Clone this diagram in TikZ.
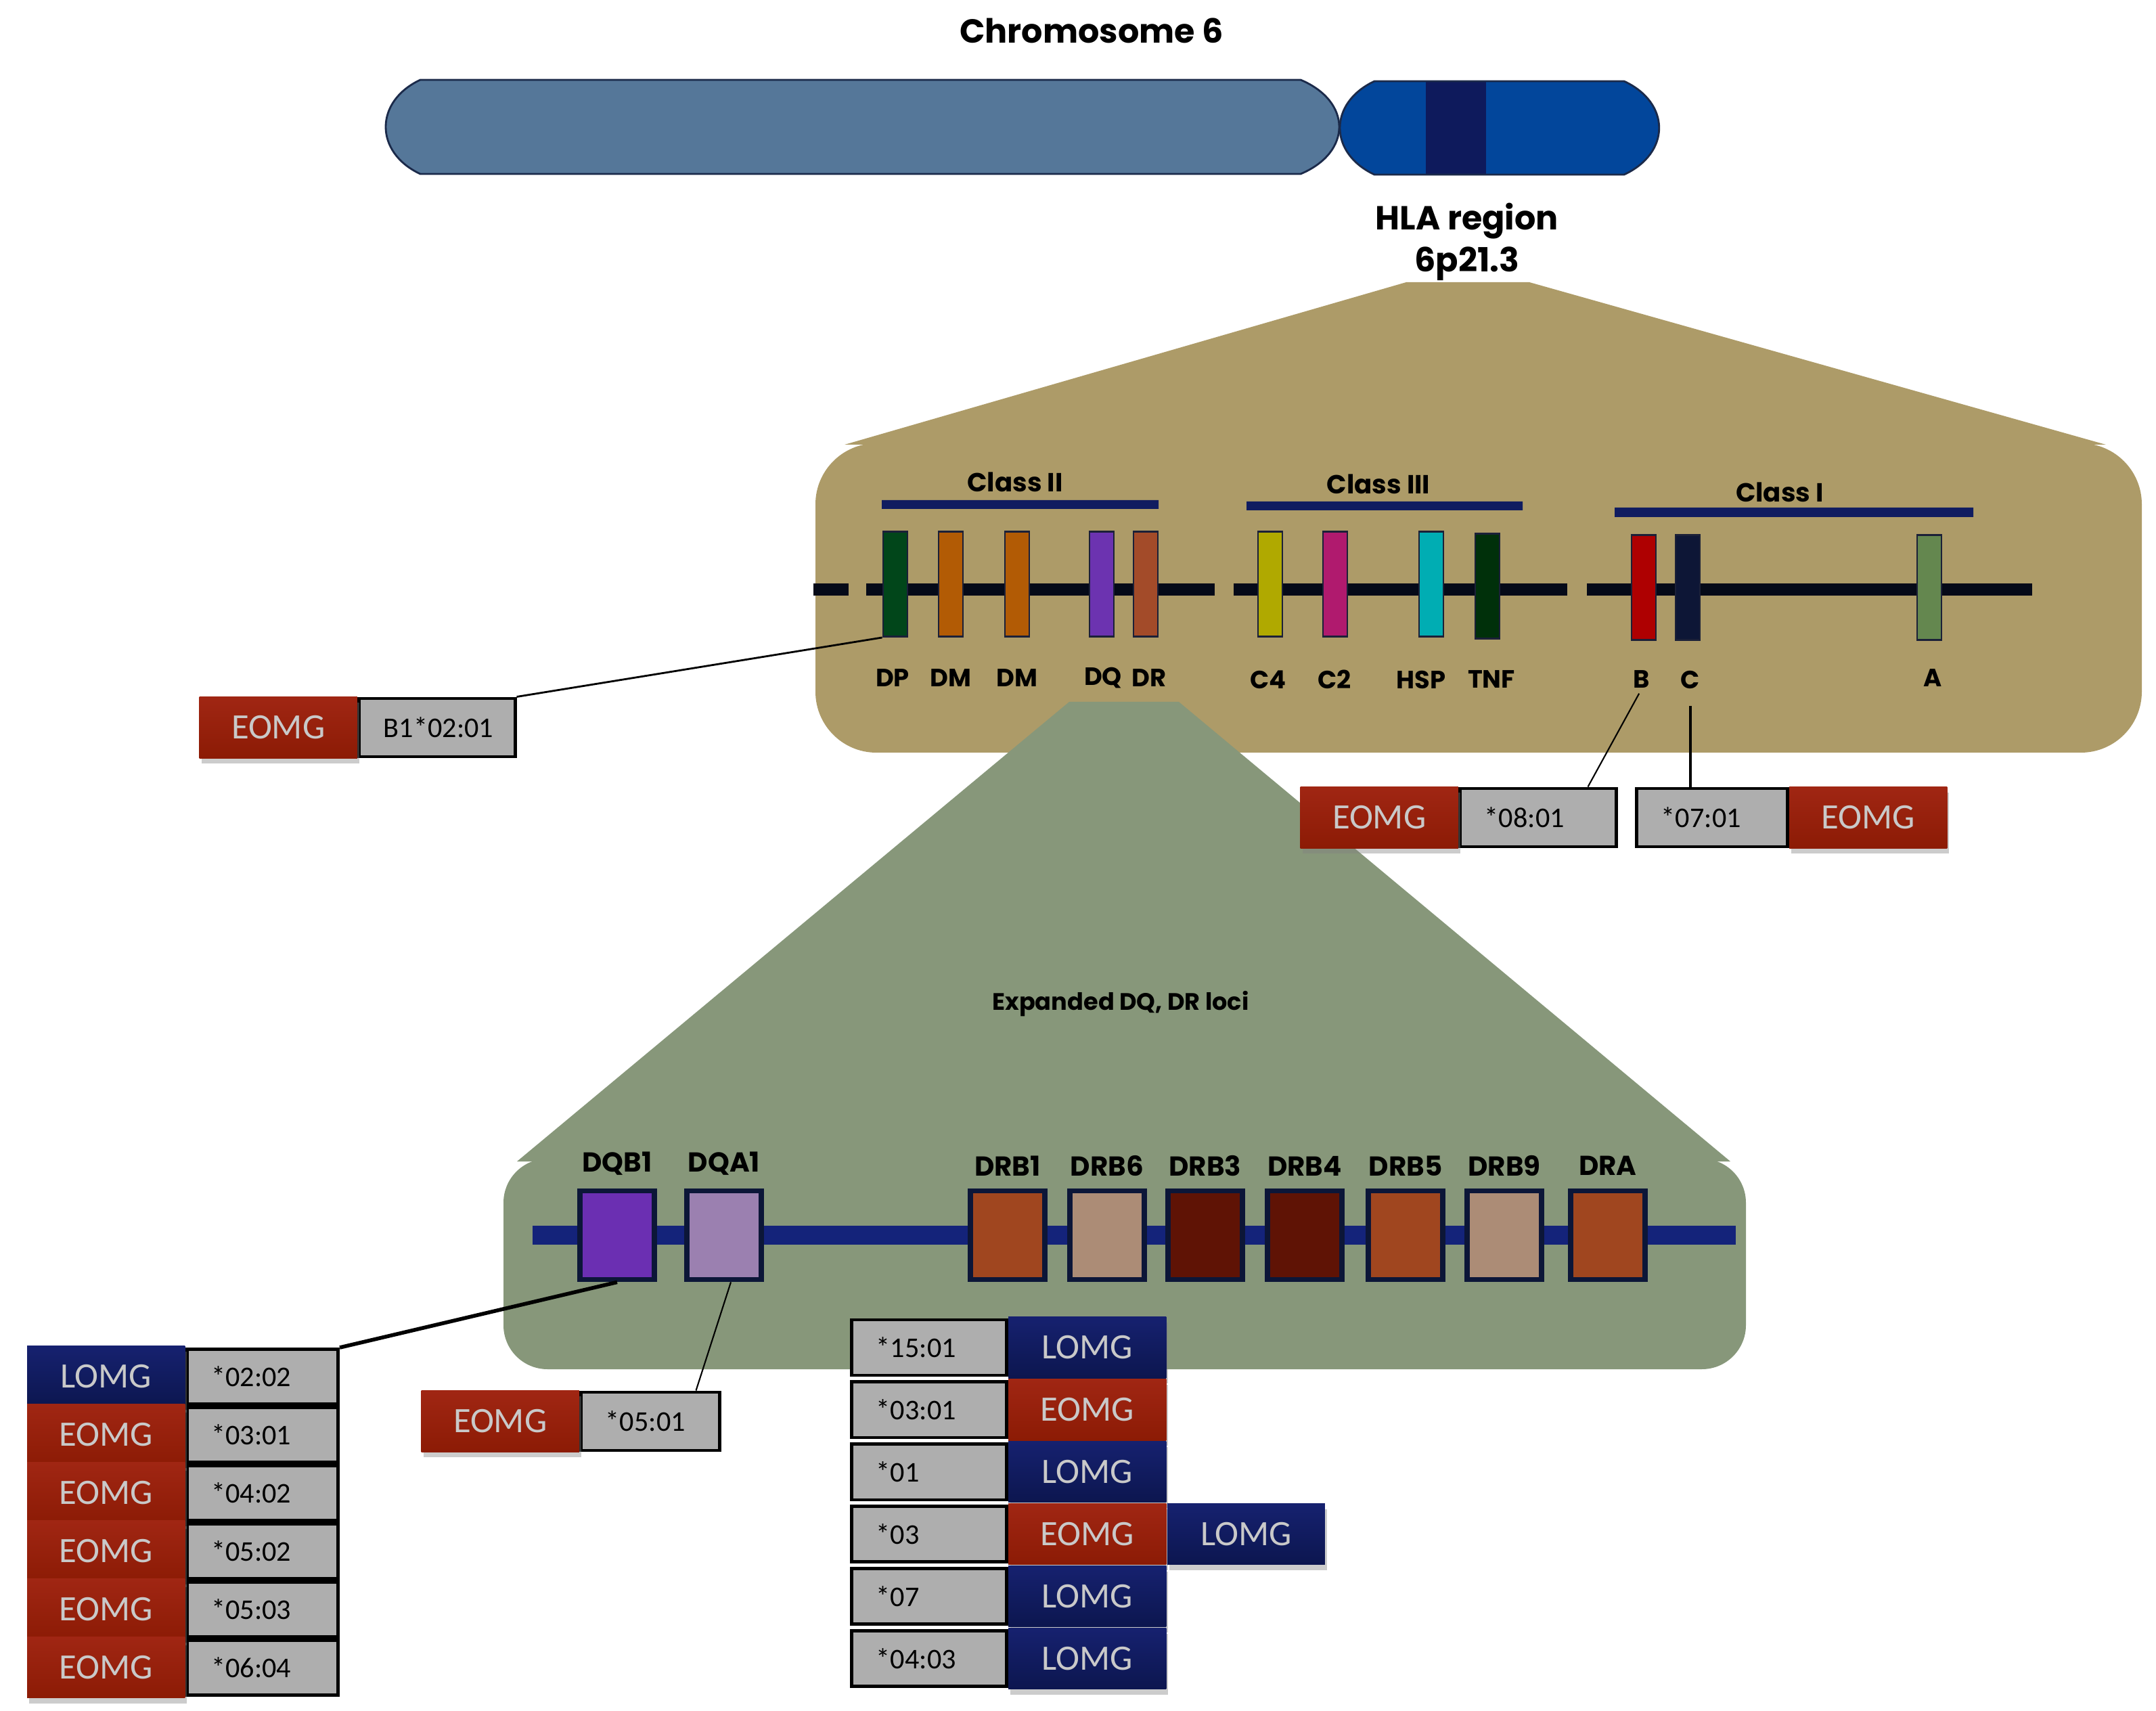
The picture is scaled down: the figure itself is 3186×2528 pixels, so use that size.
\documentclass[tikz,border=0pt]{standalone}
\usepackage{fontspec}
\setmainfont{Poppins}
\newfontfamily\calibri{Carlito}
\usetikzlibrary{positioning,shadows}
\definecolor{ChromGrey}{HTML}{557799}
\definecolor{ChromBlue}{HTML}{02469B}
\definecolor{ChromBand}{HTML}{0E1A5C}
\definecolor{ChromEdge}{HTML}{1B2A4A}
\definecolor{HlaOlive}{HTML}{AD9B68}
\definecolor{LociGreen}{HTML}{87977A}
\definecolor{GeneLine}{HTML}{050A18}
\definecolor{ClassNavy}{HTML}{101C60}
\definecolor{LociLine}{HTML}{14237A}
\definecolor{BarEdge}{HTML}{1B2038}
\definecolor{LocusEdge}{HTML}{0C1638}
\definecolor{BarDP}{HTML}{01461A}
\definecolor{BarDM}{HTML}{B25B05}
\definecolor{BarDQ}{HTML}{6C33B0}
\definecolor{BarDR}{HTML}{A34B29}
\definecolor{BarCfour}{HTML}{B0A900}
\definecolor{BarCtwo}{HTML}{B01A6E}
\definecolor{BarHSP}{HTML}{00ADB3}
\definecolor{BarTNF}{HTML}{00300A}
\definecolor{BarB}{HTML}{AE0001}
\definecolor{BarC}{HTML}{0D1636}
\definecolor{BarA}{HTML}{64874F}
\definecolor{LocPurple}{HTML}{6B2FB2}
\definecolor{LocLilac}{HTML}{9B80B0}
\definecolor{LocRust}{HTML}{A0461F}
\definecolor{LocTan}{HTML}{AC8C76}
\definecolor{LocMaroon}{HTML}{5F1305}
\definecolor{AlleleGrey}{HTML}{AEAEAE}
\definecolor{TagText}{HTML}{C9C9C9}
\definecolor{EomgTop}{HTML}{A02613}
\definecolor{EomgBot}{HTML}{8C1B05}
\definecolor{LomgTop}{HTML}{16216F}
\definecolor{LomgBot}{HTML}{0C164F}
\tikzset{
	gene/.style={draw=BarEdge,line width=0.8pt,minimum width=0.36cm,minimum height=1.55cm,inner sep=0},
	locus/.style={draw=LocusEdge,line width=2.2pt,minimum width=1.1cm,minimum height=1.31cm,inner sep=0},
	lbl/.style={font=\bfseries\fontsize{10.5}{12}\selectfont,inner sep=0},
	loclbl/.style={font=\bfseries\fontsize{11.5}{13}\selectfont,inner sep=0},
	allele/.style={draw=black,line width=1.4pt,fill=AlleleGrey,minimum height=0.86cm,inner xsep=0.36cm,inner ysep=0,align=left,font=\calibri\fontsize{12}{14}\selectfont},
	tagbox/.style={minimum width=2.33cm,minimum height=0.9cm,inner sep=0,text=TagText,font=\calibri\fontsize{15}{18}\selectfont,drop shadow={shadow xshift=0.03cm,shadow yshift=-0.08cm,opacity=0.4}},
	eomg/.style={tagbox,top color=EomgTop,bottom color=EomgBot},
	lomg/.style={tagbox,top color=LomgTop,bottom color=LomgBot}
}

\begin{document}
\begin{tikzpicture}[x=0.01cm,y=-0.01cm,node distance=0pt]
	\useasboundingbox (0,0) rectangle (3186,2528);
	% chromosome 6
	\node[font=\bfseries\fontsize{14}{17}\selectfont] (chr) at (1613,45) {Chromosome 6};
	\filldraw[fill=ChromGrey,draw=ChromEdge,line width=0.8pt] (621,118) -- (1922,118) .. controls (1998,150) and (1998,225) .. (1922,257) -- (621,257) .. controls (553,225) and (553,150) .. (621,118) -- cycle;
	\filldraw[fill=ChromBlue,draw=ChromEdge,line width=0.8pt,path picture={\fill[ChromBand] (2107,100) rectangle (2196,280);}] (2031,120) -- (2400,120) .. controls (2469,152) and (2469,226) .. (2400,258) -- (2031,258) .. controls (1963,226) and (1963,152) .. (2031,120) -- cycle;
	\node[align=center,font=\bfseries\fontsize{14}{17.6}\selectfont] (hla) at (2168,357) {HLA region\\6p21.3};
	% HLA region
	\fill[HlaOlive] (2078,417) -- (2260,417) -- (3112,657) -- (1248,657) -- cycle;
	\fill[HlaOlive,rounded corners=0.9cm] (1205,655) rectangle (3165,1112);
	\fill[ClassNavy] (1303,739) rectangle (1712,752) (1842,741) rectangle (2250,754) (2386,750) rectangle (2916,764);
	\node[lbl,font=\bfseries\fontsize{11}{13}\selectfont] (cII) at (1500,712) {Class II};
	\node[lbl,font=\bfseries\fontsize{11}{13}\selectfont] (cIII) at (2037,715) {Class III};
	\node[lbl,font=\bfseries\fontsize{11}{13}\selectfont] (cI) at (2630,727) {Class I};
	\draw[GeneLine,line width=0.18cm] (1202,871) -- (1254,871) (1280,871) -- (1795,871) (1823,871) -- (2316,871) (2345,871) -- (3003,871);
	\node[gene,fill=BarDP] (dp) at (1323,863) {};
	\node[gene,fill=BarDM] (dma) at (1405,863) {};
	\node[gene,fill=BarDM] (dmb) at (1503,863) {};
	\node[gene,fill=BarDQ] (dq) at (1628,863) {};
	\node[gene,fill=BarDR] (dr) at (1693,863) {};
	\node[gene,fill=BarCfour] (c4) at (1877,863) {};
	\node[gene,fill=BarCtwo] (c2) at (1973,863) {};
	\node[gene,fill=BarHSP] (hsp) at (2115,863) {};
	\node[gene,fill=BarTNF] (tnf) at (2198,866) {};
	\node[gene,fill=BarB] (hlab) at (2429,868) {};
	\node[gene,fill=BarC] (hlac) at (2494,868) {};
	\node[gene,fill=BarA] (hlaa) at (2851,868) {};
	\node[lbl] (lDP) at (1319,1002) {DP};
	\node[lbl] (lDMa) at (1405,1002) {DM};
	\node[lbl] (lDMb) at (1503,1002) {DM};
	\node[lbl] (lDQ) at (1630,1002) {DQ};
	\node[lbl] (lDR) at (1698,1002) {DR};
	\node[lbl] (lC4) at (1874,1004) {C4};
	\node[lbl] (lC2) at (1972,1004) {C2};
	\node[lbl] (lHSP) at (2100,1004) {HSP};
	\node[lbl] (lTNF) at (2204,1004) {TNF};
	\node[lbl] (lB) at (2426,1004) {B};
	\node[lbl] (lC) at (2498,1004) {C};
	\node[lbl] (lA) at (2856,1002) {A};
	% expanded DQ, DR loci
	\fill[LociGreen] (1580,1037) -- (1742,1037) -- (2557,1716) -- (764,1716) -- cycle;
	\fill[LociGreen,rounded corners=0.65cm] (744,1712) rectangle (2580,2023);
	\node[lbl,font=\bfseries\fontsize{10}{12}\selectfont] (exp) at (1656,1483) {Expanded DQ, DR loci};
	\draw[LociLine,line width=0.27cm] (787,1825) -- (2565,1825);
	\node[locus,fill=LocPurple] (dqb1) at (912,1825) {};
	\node[locus,fill=LocLilac] (dqa1) at (1070,1825) {};
	\node[locus,fill=LocRust] (drb1) at (1489,1825) {};
	\node[locus,fill=LocTan] (drb6) at (1636,1825) {};
	\node[locus,fill=LocMaroon] (drb3) at (1781,1825) {};
	\node[locus,fill=LocMaroon] (drb4) at (1928,1825) {};
	\node[locus,fill=LocRust] (drb5) at (2077,1825) {};
	\node[locus,fill=LocTan] (drb9) at (2223,1825) {};
	\node[locus,fill=LocRust] (dra) at (2376,1825) {};
	\node[loclbl] (tDQB1) at ([yshift=0.36cm]dqb1.north) {DQB1};
	\node[loclbl] (tDQA1) at ([yshift=0.36cm]dqa1.north) {DQA1};
	\node[loclbl] (tDRB1) at ([yshift=0.33cm]drb1.north) {DRB1};
	\node[loclbl] (tDRB6) at ([yshift=0.33cm]drb6.north) {DRB6};
	\node[loclbl] (tDRB3) at ([yshift=0.33cm]drb3.north) {DRB3};
	\node[loclbl] (tDRB4) at ([yshift=0.33cm]drb4.north) {DRB4};
	\node[loclbl] (tDRB5) at ([yshift=0.33cm]drb5.north) {DRB5};
	\node[loclbl] (tDRB9) at ([yshift=0.33cm]drb9.north) {DRB9};
	\node[loclbl] (tDRA) at ([yshift=0.33cm]dra.north) {DRA};
	% alleles, class I and DP
	\node[allele,text width=1.58cm] (b1) at (646,1075) {B1*02:01};
	\node[eomg,left=of b1] (b1e) {EOMG};
	\node[allele,text width=1.58cm] (a0801) at (2273,1208) {*08:01};
	\node[eomg,left=of a0801] (a0801e) {EOMG};
	\node[allele,text width=1.50cm] (a0701) at (2530,1208) {*07:01};
	\node[eomg,right=of a0701] (a0701e) {EOMG};
	% alleles, DQ
	\node[allele,text width=1.51cm,minimum height=0.81cm] (g0202) at (388,2034) {*02:02};
	\node[allele,text width=1.51cm,minimum height=0.81cm,below=of g0202] (g0301) {*03:01};
	\node[allele,text width=1.51cm,minimum height=0.81cm,below=of g0301] (g0402) {*04:02};
	\node[allele,text width=1.51cm,minimum height=0.81cm,below=of g0402] (g0502) {*05:02};
	\node[allele,text width=1.51cm,minimum height=0.81cm,below=of g0502] (g0503) {*05:03};
	\node[allele,text width=1.51cm,minimum height=0.81cm,below=of g0503] (g0604) {*06:04};
	\node[lomg,left=of g0202] (g0202t) {LOMG};
	\node[eomg,left=of g0301] (g0301t) {EOMG};
	\node[eomg,left=of g0402] (g0402t) {EOMG};
	\node[eomg,left=of g0502] (g0502t) {EOMG};
	\node[eomg,left=of g0503] (g0503t) {EOMG};
	\node[eomg,left=of g0604] (g0604t) {EOMG};
	\node[allele,text width=1.32cm] (g0501) at (961,2100) {*05:01};
	\node[eomg,left=of g0501] (g0501t) {EOMG};
	% alleles, DR
	\node[allele,text width=1.56cm,minimum height=0.82cm] (m1501) at (1373,1991) {*15:01};
	\node[allele,text width=1.56cm,minimum height=0.82cm,below=0.05cm of m1501] (m0301) {*03:01};
	\node[allele,text width=1.56cm,minimum height=0.82cm,below=0.05cm of m0301] (m01) {*01};
	\node[allele,text width=1.56cm,minimum height=0.82cm,below=0.05cm of m01] (m03) {*03};
	\node[allele,text width=1.56cm,minimum height=0.82cm,below=0.05cm of m03] (m07) {*07};
	\node[allele,text width=1.56cm,minimum height=0.82cm,below=0.05cm of m07] (m0403) {*04:03};
	\node[lomg,right=of m1501] (m1501t) {LOMG};
	\node[eomg,right=of m0301] (m0301t) {EOMG};
	\node[lomg,right=of m01] (m01t) {LOMG};
	\node[eomg,right=of m03] (m03t) {EOMG};
	\node[lomg,right=of m03t] (m03u) {LOMG};
	\node[lomg,right=of m07] (m07t) {LOMG};
	\node[lomg,right=of m0403] (m0403t) {LOMG};
	% connectors
	\draw[line width=0.8pt] (dp.south west) -- (b1.north east);
	\draw[line width=0.6pt,shorten <=0.08cm] (lB.south) -- ([xshift=-0.44cm]a0801.north east);
	\draw[line width=1.1pt,shorten <=0.25cm] (lC.south) -- (lC.south |- a0701.north);
	\draw[line width=1.6pt] (dqb1.south) -- (g0202.north east);
	\draw[line width=0.6pt] ([xshift=0.1cm]dqa1.south) -- ([xshift=-0.37cm]g0501.north east);
\end{tikzpicture}
\end{document}
